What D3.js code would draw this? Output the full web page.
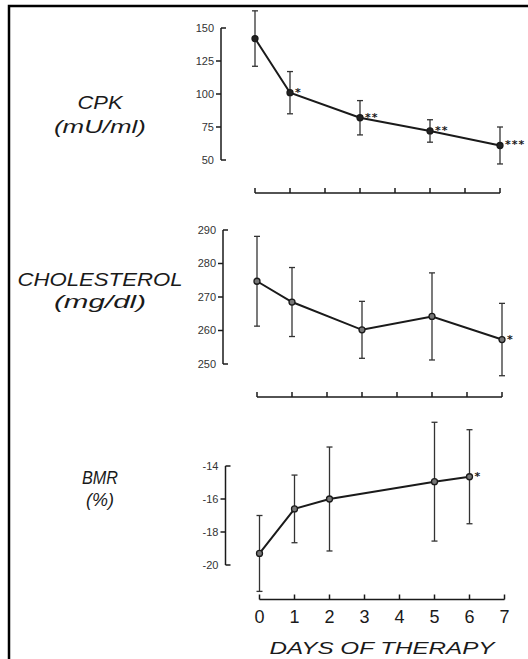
<!DOCTYPE html>
<html>
<head>
<meta charset="utf-8">
<script src="https://cdn.jsdelivr.net/npm/d3@7"></script>
<style>
  html, body { margin: 0; padding: 0; background: #fff; }
  svg { display: block; }
</style>
</head>
<body>
<svg id="chart" width="528" height="659"></svg>
<script>
// ---- Data ----
const cpkDays = [0, 1, 3, 5, 7];
const cpkMean = [142, 101, 82, 72, 61];
const cpkErr  = [21, 16, 13, 8.5, 14];
const cpkSig  = ["", "*", "**", "**", "***"];
const cpkTicks = [50, 75, 100, 125, 150];

const cholDays = [0, 1, 3, 5, 7];
const cholMean = [274.7, 268.5, 260.2, 264.2, 257.3];
const cholErr  = [13.4, 10.3, 8.5, 13, 10.8];
const cholSig  = ["", "", "", "", "*"];
const cholTicks = [250, 260, 270, 280, 290];

const bmrDays = [0, 1, 2, 5, 6];
const bmrMean = [-19.3, -16.6, -16.0, -14.95, -14.65];
const bmrErr  = [2.3, 2.05, 3.15, 3.6, 2.85];
const bmrSig  = ["", "", "", "", "*"];
const bmrTicks = [-20, -18, -16, -14];

const dayTicks = [0, 1, 2, 3, 4, 5, 6, 7];
const xTitle = "DAYS OF THERAPY";

// ---- Drawing ----
const svg = d3.select("#chart");
const ink = "#1a1a1a";

// page frame (scanned border)
svg.append("path")
  .attr("d", "M9,659 V6 H528")
  .attr("fill", "none").attr("stroke", "#000").attr("stroke-width", 2.5);

const panels = [
  { days: cpkDays, mean: cpkMean, err: cpkErr, sig: cpkSig, ticks: cpkTicks,
    domain: [50, 150], yRange: [160, 28], xRange: [255, 500], axisX: 221,
    labels: [["CPK", 109, 45], ["(mU/ml)", 133, 92]], bracketY: 193, fill: "#222" },
  { days: cholDays, mean: cholMean, err: cholErr, sig: cholSig, ticks: cholTicks,
    domain: [250, 290], yRange: [364, 230], xRange: [257, 502], axisX: 223,
    labels: [["CHOLESTEROL", 286, 165], ["(mg/dl)", 308, 92]], bracketY: 397, fill: "#777" },
  { days: bmrDays, mean: bmrMean, err: bmrErr, sig: bmrSig, ticks: bmrTicks,
    domain: [-20, -14], yRange: [565, 466], xRange: [259.5, 504.5], axisX: 225.5,
    labels: [["BMR", 484, 36], ["(%)", 506, 28]], bracketY: 599.5, fill: "#777" }
];

panels.forEach((p, pi) => {
  const x = d3.scaleLinear().domain([0, 7]).range(p.xRange);
  const y = d3.scaleLinear().domain(p.domain).range(p.yRange);
  const g = svg.append("g");

  // Y axis line
  const [lo, hi] = d3.extent(p.ticks);
  g.append("line")
    .attr("x1", p.axisX).attr("x2", p.axisX)
    .attr("y1", y(hi)).attr("y2", y(lo))
    .attr("stroke", ink).attr("stroke-width", 1.5);
  // ticks: ends point inward, middle ticks outward
  p.ticks.forEach(t => {
    const inward = (t === lo || t === hi);
    g.append("line")
      .attr("x1", p.axisX).attr("x2", inward ? p.axisX + 5 : p.axisX - 5)
      .attr("y1", y(t)).attr("y2", y(t))
      .attr("stroke", ink).attr("stroke-width", 1.5);
    g.append("text")
      .attr("x", p.axisX - 7).attr("y", y(t))
      .attr("dy", "0.35em")
      .attr("text-anchor", "end")
      .attr("font-family", "Liberation Sans, Arial, sans-serif")
      .attr("font-size", 11)
      .attr("fill", "#333")
      .text(t);
  });

  // Panel label
  p.labels.forEach(([txt, by, w]) => {
    g.append("text")
      .attr("x", 100).attr("y", by)
      .attr("text-anchor", "middle")
      .attr("font-family", "Liberation Sans, Arial, sans-serif")
      .attr("font-style", "italic")
      .attr("font-size", 18)
      .attr("fill", ink)
      .attr("textLength", w).attr("lengthAdjust", "spacingAndGlyphs")
      .text(txt);
  });

  // Bracket axis (day ticks)
  g.append("line")
    .attr("x1", x(0)).attr("x2", x(7))
    .attr("y1", p.bracketY).attr("y2", p.bracketY)
    .attr("stroke", ink).attr("stroke-width", 1.5);
  dayTicks.forEach(d => {
    g.append("line")
      .attr("x1", x(d)).attr("x2", x(d))
      .attr("y1", p.bracketY).attr("y2", p.bracketY - 5)
      .attr("stroke", ink).attr("stroke-width", 1.5);
  });

  // Error bars
  p.days.forEach((d, i) => {
    const cx = x(d);
    const top = y(p.mean[i] + p.err[i]);
    const bot = y(p.mean[i] - p.err[i]);
    g.append("line").attr("x1", cx).attr("x2", cx).attr("y1", top).attr("y2", bot)
      .attr("stroke", "#333").attr("stroke-width", 1.3);
    [top, bot].forEach(yy => g.append("line")
      .attr("x1", cx - 3).attr("x2", cx + 3).attr("y1", yy).attr("y2", yy)
      .attr("stroke", "#333").attr("stroke-width", 1.3));
  });

  // Mean line
  const line = d3.line().x((d, i) => x(d)).y((d, i) => y(p.mean[i]));
  g.append("path").datum(p.days)
    .attr("d", line)
    .attr("fill", "none").attr("stroke", ink).attr("stroke-width", 2);

  // Points
  p.days.forEach((d, i) => {
    g.append("circle")
      .attr("cx", x(d)).attr("cy", y(p.mean[i])).attr("r", 3)
      .attr("fill", p.fill).attr("stroke", ink).attr("stroke-width", 1.3);
  });

  // Significance stars
  p.days.forEach((d, i) => {
    if (!p.sig[i]) return;
    g.append("text")
      .attr("x", x(d) + 5).attr("y", y(p.mean[i]) + 3)
      .attr("font-family", "DejaVu Sans, sans-serif")
      .attr("font-size", 11)
      .attr("font-weight", "bold")
      .attr("fill", ink)
      .attr("letter-spacing", 1)
      .text(p.sig[i]);
  });

  // Bottom panel: day labels and title
  if (pi === 2) {
    dayTicks.forEach(d => {
      g.append("text")
        .attr("x", x(d)).attr("y", 623)
        .attr("text-anchor", "middle")
        .attr("font-family", "Liberation Sans, Arial, sans-serif")
        .attr("font-size", 18)
        .attr("fill", ink)
        .text(d);
    });
    g.append("text")
      .attr("x", 382).attr("y", 654)
      .attr("text-anchor", "middle")
      .attr("font-family", "Liberation Sans, Arial, sans-serif")
      .attr("font-style", "italic")
      .attr("font-size", 17)
      .attr("fill", ink)
      .attr("textLength", 225).attr("lengthAdjust", "spacingAndGlyphs")
      .text(xTitle);
  }
});
</script>
</body>
</html>
